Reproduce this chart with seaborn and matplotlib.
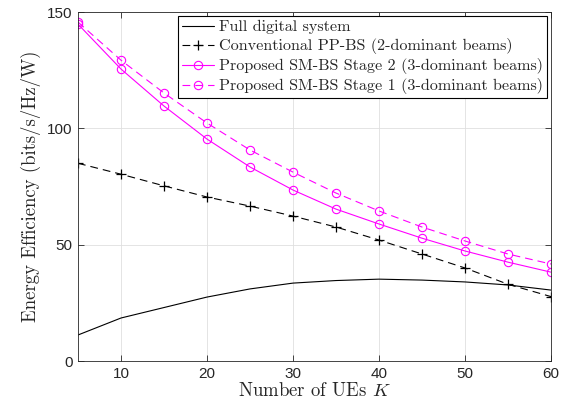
import numpy as np
import pandas as pd
import matplotlib
matplotlib.use("Agg")
import matplotlib.pyplot as plt
import seaborn as sns

K = [5, 10, 15, 20, 25, 30, 35, 40, 45, 50, 55, 60]
full_digital = [11.2, 18.5, 23.0, 27.5, 31.0, 33.5, 34.6, 35.2, 34.8, 34.0, 32.7, 30.5]
conv_ppbs = [85.0, 80.3, 75.3, 70.5, 66.6, 62.3, 57.6, 52.0, 46.0, 40.0, 33.0, 27.7]
sm_stage2 = [144.8, 125.5, 109.6, 95.4, 83.4, 73.5, 65.3, 58.9, 52.8, 47.3, 42.5, 38.2]
sm_stage1 = [145.7, 129.3, 115.2, 102.3, 90.7, 81.2, 72.2, 64.5, 57.6, 51.6, 46.0, 41.7]

labels = [
    "Full digital system",
    "Conventional PP-BS (2-dominant beams)",
    "Proposed SM-BS Stage 2 (3-dominant beams)",
    "Proposed SM-BS Stage 1 (3-dominant beams)",
]

sns.set_theme(style="white")
plt.rcParams["mathtext.fontset"] = "cm"

fig = plt.figure(figsize=(5.71, 4.15), dpi=100)
ax = fig.add_axes([0.1366, 0.130, 0.8284, 0.841])

serif = "cmr10"
mag = "#FF00FF"
dash = (0, (7, 4.5))

sns.lineplot(x=K, y=full_digital, ax=ax, color="black", linewidth=0.8,
             linestyle="-", label=labels[0])
sns.lineplot(x=K, y=conv_ppbs, ax=ax, color="black", linewidth=0.8,
             linestyle=dash, marker="+", markersize=7, markeredgewidth=0.9,
             markeredgecolor="black", markerfacecolor="black", label=labels[1])
sns.lineplot(x=K, y=sm_stage2, ax=ax, color=mag, linewidth=0.8,
             linestyle="-", marker="o", markersize=6, markerfacecolor="none",
             markeredgecolor=mag, markeredgewidth=0.8, label=labels[2])
sns.lineplot(x=K, y=sm_stage1, ax=ax, color=mag, linewidth=0.8,
             linestyle=dash, marker="o", markersize=6, markerfacecolor="none",
             markeredgecolor=mag, markeredgewidth=0.8, label=labels[3])

ax.set_xlim(5, 60)
ax.set_ylim(0, 150)
ax.set_xticks([10, 20, 30, 40, 50, 60])
ax.set_yticks([0, 50, 100, 150])
for t in ax.get_xticklabels() + ax.get_yticklabels():
    t.set_fontfamily("Liberation Sans")
    t.set_fontsize(11)
ax.tick_params(direction="in", length=4, width=0.6, top=True, right=True,
               bottom=True, left=True, colors="#262626", pad=4)
ax.grid(True, color="#dfdfdf", linewidth=0.6)
for s in ax.spines.values():
    s.set_color("#262626")
    s.set_linewidth(0.6)

ax.set_xlabel(r"Number of UEs $K$", fontfamily=serif, fontsize=13.5, labelpad=1)
ax.set_ylabel("Energy Efficiency (bits/s/Hz/W)", fontfamily=serif, fontsize=13.5, labelpad=4)

leg = ax.legend(loc="upper right", prop={"family": serif, "size": 11.6},
                frameon=True, fancybox=False, framealpha=1, edgecolor="black",
                borderpad=0.25, labelspacing=0.25, handlelength=2.0, handletextpad=0.3,
                borderaxespad=0.25)
leg.get_frame().set_linewidth(0.8)

fig.savefig("out.png", dpi=100)
